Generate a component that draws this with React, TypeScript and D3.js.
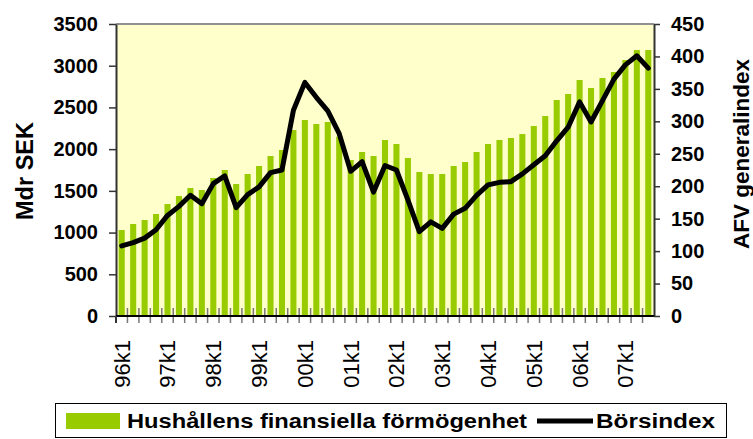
import * as d3 from "d3";
import { useEffect, useRef } from "react";

// quarters 96k1 .. 07k3
const quarters = [
  "96k1", "96k2", "96k3", "96k4",
  "97k1", "97k2", "97k3", "97k4",
  "98k1", "98k2", "98k3", "98k4",
  "99k1", "99k2", "99k3", "99k4",
  "00k1", "00k2", "00k3", "00k4",
  "01k1", "01k2", "01k3", "01k4",
  "02k1", "02k2", "02k3", "02k4",
  "03k1", "03k2", "03k3", "03k4",
  "04k1", "04k2", "04k3", "04k4",
  "05k1", "05k2", "05k3", "05k4",
  "06k1", "06k2", "06k3", "06k4",
  "07k1", "07k2", "07k3",
];

// Hushållens finansiella förmögenhet, Mdr SEK
const wealth = [
  1031, 1103, 1151, 1223,
  1342, 1438, 1534, 1510,
  1654, 1750, 1582, 1702,
  1798, 1918, 1990, 2229,
  2349, 2301, 2325, 2149,
  1870, 1966, 1918, 2110,
  2062, 1894, 1726, 1702,
  1702, 1798, 1846, 1966,
  2062, 2110, 2134, 2181,
  2277, 2397, 2589, 2661,
  2829, 2733, 2853, 2925,
  3068, 3188, 3188,
];

// Börsindex (AFV generalindex)
const index = [
  108, 113, 120, 133,
  155, 169, 186, 173,
  204, 216, 167, 187,
  199, 221, 225, 317,
  360, 337, 316, 281,
  223, 238, 191, 232,
  225, 179, 130, 145,
  135, 157, 166, 186,
  202, 206, 207, 219,
  233, 247, 270, 291,
  330, 299, 332, 365,
  387, 401, 382,
];

const leftTicks = [0, 500, 1000, 1500, 2000, 2500, 3000, 3500];
const rightTicks = [0, 50, 100, 150, 200, 250, 300, 350, 400, 450];

const FONT = "'Liberation Sans', Arial, sans-serif";

export default function App() {
  const ref = useRef<SVGSVGElement>(null);

  useEffect(() => {
    const svg = d3.select(ref.current);
    svg.selectAll("*").remove();

    const left = 116, right = 654, top = 24, bottom = 316;

    const x = d3.scaleBand().domain(quarters).range([left, right]);
    const yL = d3.scaleLinear().domain([0, 3500]).range([bottom, top]);
    const yR = d3.scaleLinear().domain([0, 450]).range([bottom, top]);

    // plot area
    svg.append("rect")
      .attr("x", left).attr("y", top)
      .attr("width", right - left).attr("height", bottom - top)
      .attr("fill", "#FFFFCC");

    svg.append("line")
      .attr("x1", left).attr("x2", right)
      .attr("y1", top).attr("y2", top)
      .attr("stroke", "#909090").attr("stroke-width", 2);

    // bars
    const bw = x.bandwidth() * 0.53;
    svg.append("g")
      .selectAll("rect")
      .data(wealth)
      .enter()
      .append("rect")
      .attr("x", (d, i) => x(quarters[i])! + (x.bandwidth() - bw) / 2)
      .attr("y", (d) => yL(d))
      .attr("width", bw)
      .attr("height", (d) => bottom - yL(d))
      .attr("fill", "#99CC00");

    // left axis
    const gl = svg.append("g")
      .attr("transform", `translate(${left},0)`)
      .call(d3.axisLeft(yL).tickValues(leftTicks).tickSize(7).tickSizeOuter(0).tickPadding(11).tickFormat(d3.format("d")));
    gl.select(".domain").attr("stroke", "#333").attr("stroke-width", 2);
    gl.selectAll(".tick line").attr("stroke", "#333").attr("stroke-width", 1.5);
    gl.selectAll("text")
      .attr("font-family", FONT).attr("font-size", 20).attr("font-weight", "bold").attr("fill", "#000");

    // right axis
    const gr = svg.append("g")
      .attr("transform", `translate(${right},0)`)
      .call(d3.axisRight(yR).tickValues(rightTicks).tickSize(6).tickSizeOuter(0).tickPadding(11));
    gr.select(".domain").attr("stroke", "#333").attr("stroke-width", 2);
    gr.selectAll(".tick line").attr("stroke", "#333").attr("stroke-width", 1.5);
    gr.selectAll("text")
      .attr("font-family", FONT).attr("font-size", 20).attr("font-weight", "bold").attr("fill", "#000");

    // category axis with ticks between categories
    const edges = quarters.map((q) => x(q)!).concat([right]);
    svg.append("g")
      .selectAll("line")
      .data(edges.slice(1, -1))
      .enter()
      .append("line")
      .attr("x1", (d) => d).attr("x2", (d) => d)
      .attr("y1", bottom - 8).attr("y2", bottom + 7)
      .attr("stroke", "#777").attr("stroke-width", 1.5);
    svg.append("line")
      .attr("x1", left).attr("x2", right)
      .attr("y1", bottom).attr("y2", bottom)
      .attr("stroke", "#000").attr("stroke-width", 2);
    svg.append("line")
      .attr("x1", left).attr("x2", left)
      .attr("y1", bottom).attr("y2", bottom + 7)
      .attr("stroke", "#333").attr("stroke-width", 2);

    svg.append("g")
      .selectAll("text")
      .data(quarters.filter((q) => q.endsWith("k1")))
      .enter()
      .append("text")
      .attr("transform", (d) => `translate(${x(d)! + x.bandwidth() / 2},340) rotate(-90)`)
      .attr("dy", "0.36em")
      .attr("text-anchor", "end")
      .attr("font-family", FONT).attr("font-size", 22)
      .text((d) => d);

    // index line
    const line = d3.line<number>()
      .x((d, i) => x(quarters[i])! + x.bandwidth() / 2)
      .y((d) => yR(d));
    svg.append("path")
      .datum(index)
      .attr("d", line)
      .attr("fill", "none")
      .attr("stroke", "#000")
      .attr("stroke-width", 5)
      .attr("stroke-linejoin", "round")
      .attr("stroke-linecap", "round");

    // axis titles
    svg.append("text")
      .attr("transform", "translate(33,171) rotate(-90)")
      .attr("text-anchor", "middle")
      .attr("font-family", FONT).attr("font-size", 23.5).attr("font-weight", "bold")
      .text("Mdr SEK");
    svg.append("text")
      .attr("transform", "translate(749,154) rotate(-90)")
      .attr("text-anchor", "middle")
      .attr("font-family", FONT).attr("font-size", 22.5).attr("font-weight", "bold")
      .text("AFV generalindex");

    // legend
    const lg = svg.append("g");
    lg.append("rect")
      .attr("x", 55.5).attr("y", 403.5).attr("width", 671).attr("height", 34)
      .attr("fill", "#fff").attr("stroke", "#000");
    lg.append("rect")
      .attr("x", 66).attr("y", 413).attr("width", 54).attr("height", 16)
      .attr("fill", "#99CC00");
    lg.append("text")
      .attr("x", 127).attr("y", 428)
      .attr("font-family", FONT).attr("font-size", 20).attr("font-weight", "bold")
      .attr("textLength", 400).attr("lengthAdjust", "spacingAndGlyphs")
      .text("Hushållens finansiella förmögenhet");
    lg.append("line")
      .attr("x1", 537).attr("x2", 593).attr("y1", 421).attr("y2", 421)
      .attr("stroke", "#000").attr("stroke-width", 5);
    lg.append("text")
      .attr("x", 596).attr("y", 428)
      .attr("font-family", FONT).attr("font-size", 20).attr("font-weight", "bold")
      .attr("textLength", 119).attr("lengthAdjust", "spacingAndGlyphs")
      .text("Börsindex");
  }, []);

  return (
    <svg
      ref={ref}
      width={753}
      height={439}
      style={{ position: "absolute", left: 0, top: 0, background: "#fff" }}
    />
  );
}
